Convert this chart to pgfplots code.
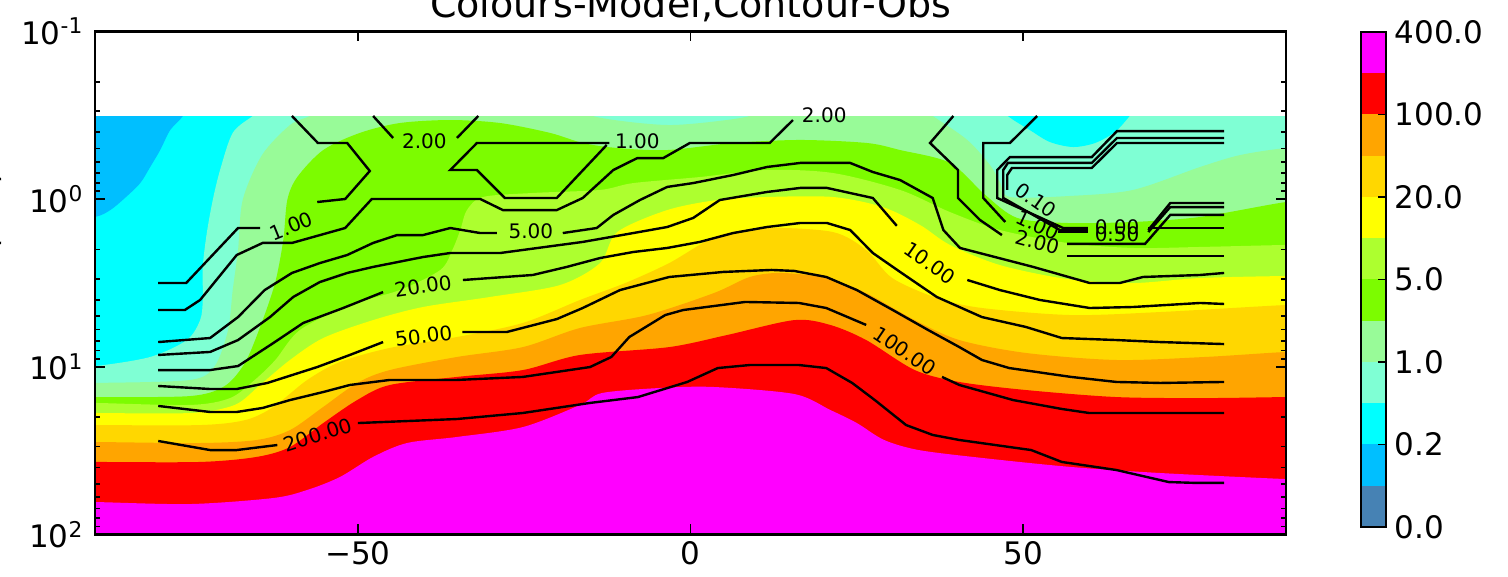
\documentclass[border=0pt]{standalone}
\usepackage{fontspec}
\setmainfont{DejaVu Sans}
\usepackage{pgfplots}
\pgfplotsset{compat=1.18}
\definecolor{cSteel}{RGB}{70,130,180}
\definecolor{cDeep}{RGB}{0,191,255}
\definecolor{cCyan}{RGB}{0,255,255}
\definecolor{cAqua}{RGB}{127,255,212}
\definecolor{cPale}{RGB}{152,251,152}
\definecolor{cLawn}{RGB}{124,252,0}
\definecolor{cGY}{RGB}{173,255,47}
\definecolor{cYel}{RGB}{255,255,0}
\definecolor{cGold}{RGB}{255,215,0}
\definecolor{cOra}{RGB}{255,165,0}
\definecolor{cRed}{RGB}{255,0,0}
\definecolor{cMag}{RGB}{255,0,255}
\tikzset{clabel/.style={font=\fontsize{10}{12}\selectfont, inner sep=0pt}}
\pgfplotsset{band/.style={fill=#1, draw=none, smooth, tension=0.5}}
\begin{document}
\begin{tikzpicture}
\begin{axis}[
  at={(47.5pt,21.3pt)}, anchor=south west,
  width=595.5pt, height=251.55pt, scale only axis,
  xmin=-89.5, xmax=89.5, ymin=-1, ymax=2, y dir=reverse,
  xtick={-50,0,50}, xticklabels={−50,0,50},
  ytick={-1,0,1,2},
  yticklabels={10\textsuperscript{-1},10\textsuperscript{0},10\textsuperscript{1},10\textsuperscript{2}},
  minor ytick={-0.699,-0.523,-0.398,-0.301,-0.222,-0.155,-0.097,-0.046,
               0.301,0.477,0.602,0.699,0.778,0.845,0.903,0.954,
               1.301,1.477,1.602,1.699,1.778,1.845,1.903,1.954},
  tick align=inside, xtick pos=both, ytick pos=both,
  major tick length=5pt, minor tick length=2.5pt,
  every tick/.style={black, line width=0.8pt},
  axis line style={line width=1.2pt},
  ticklabel style={font=\fontsize{15.5}{18}\selectfont},
  yticklabel style={xshift=-2.3pt},
  axis on top, clip mode=individual,
]
% filled model field
\addplot[fill=cCyan, draw=none] coordinates {(-89.5,-0.495) (89.5,-0.495) (89.5,2) (-89.5,2)} -- cycle;
\addplot[band=cDeep] coordinates {(-95,-0.6) (-75.5,-0.6) (-76.3,-0.495) (-78.2,-0.411) (-79.7,-0.292) (-81.2,-0.191) (-82.7,-0.095) (-85.0,-0.006) (-87.2,0.066) (-89.5,0.107) (-95,0.13)} -- cycle;
\addplot[band=cAqua] coordinates {(-95,2.2) (-95,0.996) (-89.5,0.996) (-81.2,0.942) (-75.7,0.841) (-73.7,0.722) (-73.3,0.602) (-73.3,0.405) (-72.7,0.203) (-71.8,0.006) (-70.7,-0.173) (-68.8,-0.394) (-65.8,-0.495) (-63,-0.58) (95,-0.58) (95,2.2)} -- cycle;
\addplot[band=cCyan] coordinates {(46.0,-0.58) (47.7,-0.495) (51.0,-0.411) (54.0,-0.340) (57.5,-0.310) (60.8,-0.334) (63.8,-0.400) (66.0,-0.495) (67.7,-0.58)} -- cycle;
\addplot[band=cPale] coordinates {(-95,2.2) (-95,1.097) (-89.5,1.097) (-75.2,1.079) (-71.5,0.996) (-69.5,0.781) (-68.8,0.543) (-68.0,0.304) (-67.3,0.006) (-64.4,-0.262) (-60.2,-0.441) (-57.2,-0.495) (-55,-0.56) (-17,-0.56) (-14.7,-0.495) (-9.1,-0.459) (-3.1,-0.441) (2.9,-0.459) (8.9,-0.495) (11,-0.56) (34,-0.56) (36.4,-0.495) (41.6,-0.352) (45.0,-0.203) (46.5,-0.101) (48.0,-0.012) (57.0,-0.018) (66.5,-0.054) (76.6,-0.191) (82.6,-0.262) (89.5,-0.304) (95,-0.31) (95,2.2)} -- cycle;
\addplot[band=cLawn] coordinates {(-95,2.2) (-95,1.181) (-89.5,1.181) (-75.2,1.175) (-70.0,1.115) (-66.9,0.972) (-64.4,0.733) (-62.4,0.495) (-61.2,0.244) (-60.6,0.006) (-59.1,-0.131) (-55.2,-0.292) (-49.7,-0.394) (-43.7,-0.453) (-36.1,-0.471) (-28.6,-0.453) (-21.1,-0.394) (-16.2,-0.334) (-11.0,-0.304) (-3.5,-0.292) (6.4,-0.334) (16.5,-0.352) (26.5,-0.334) (31.5,-0.292) (39.0,-0.215) (44.3,-0.024) (49.1,0.113) (56.6,0.143) (66.5,0.137) (76.6,0.107) (89.5,0.018) (95,0.01) (95,2.2)} -- cycle;
\addplot[band=cGY] coordinates {(-95,2.2) (-95,1.216) (-89.5,1.216) (-75.2,1.228) (-69.2,1.187) (-65.5,1.079) (-62.4,0.960) (-58.7,0.781) (-51.2,0.632) (-43.7,0.543) (-37.6,0.423) (-35.8,0.304) (-34.6,0.185) (-33.6,0.066) (-31.2,-0.012) (-23.7,-0.036) (-13.6,-0.054) (-8.6,-0.095) (1.4,-0.131) (11.5,-0.173) (21.4,-0.155) (31.5,-0.054) (39.0,0.078) (46.5,0.185) (56.6,0.262) (66.5,0.292) (76.6,0.286) (89.5,0.274) (95,0.274) (95,2.2)} -- cycle;
\addplot[band=cYel] coordinates {(-95,2.2) (-95,1.276) (-89.5,1.276) (-75.2,1.276) (-68.5,1.228) (-64.7,1.109) (-60.2,0.960) (-55.2,0.829) (-47.7,0.722) (-40.2,0.644) (-30.1,0.584) (-19.6,0.513) (-13.6,0.382) (-11.0,0.197) (-3.5,0.066) (4.0,0.006) (11.5,-0.012) (21.4,-0.012) (28.9,0.048) (34.5,0.155) (39.0,0.274) (46.5,0.394) (56.6,0.477) (66.5,0.501) (76.6,0.471) (89.5,0.459) (95,0.459) (95,2.2)} -- cycle;
\addplot[band=cGold] coordinates {(-95,2.2) (-95,1.348) (-89.5,1.348) (-73.7,1.348) (-66.9,1.318) (-62.7,1.240) (-57.6,1.079) (-52.7,0.972) (-45.2,0.888) (-35.1,0.823) (-25.2,0.739) (-16.6,0.602) (-9.8,0.501) (-3.2,0.382) (4.0,0.221) (11.5,0.173) (21.4,0.197) (26.4,0.304) (30.3,0.471) (37.0,0.590) (43.8,0.650) (57.2,0.692) (70.6,0.674) (89.5,0.632) (95,0.63) (95,2.2)} -- cycle;
\addplot[band=cOra] coordinates {(-95,2.2) (-95,1.449) (-89.5,1.449) (-73.7,1.455) (-65.2,1.437) (-60.2,1.378) (-55.2,1.240) (-50.1,1.097) (-45.2,1.020) (-35.1,0.942) (-25.2,0.883) (-16.6,0.769) (-6.5,0.692) (3.5,0.561) (8.9,0.465) (13.6,0.441) (20.4,0.471) (26.4,0.561) (33.7,0.722) (40.4,0.841) (50.4,0.918) (64.0,0.960) (77.3,0.942) (89.5,0.912) (95,0.91) (95,2.2)} -- cycle;
\addplot[band=cRed] coordinates {(-95,2.2) (-95,1.568) (-89.5,1.568) (-73.7,1.568) (-65.2,1.538) (-60.2,1.479) (-55.2,1.336) (-50.1,1.199) (-45.2,1.109) (-35.1,1.061) (-25.2,1.020) (-16.6,0.930) (-3.2,0.883) (5.5,0.811) (15.6,0.722) (21.0,0.751) (26.4,0.841) (33.7,1.020) (40.4,1.091) (50.4,1.139) (64.0,1.181) (77.3,1.187) (89.5,1.181) (95,1.18) (95,2.2)} -- cycle;
\addplot[band=cMag] coordinates {(-95,2.2) (-95,1.807) (-89.5,1.807) (-75.2,1.819) (-62.7,1.783) (-57.6,1.735) (-52.7,1.658) (-47.7,1.538) (-42.6,1.455) (-35.1,1.419) (-25.2,1.360) (-16.6,1.228) (-13.3,1.157) (-4.6,1.127) (3.5,1.121) (15.6,1.163) (21.0,1.258) (25.0,1.336) (29.1,1.437) (34.3,1.497) (43.8,1.544) (57.2,1.598) (70.6,1.634) (89.5,1.670) (95,1.672) (95,2.2)} -- cycle;
% no model data above the top level
\addplot[fill=white, draw=none] coordinates {(-95,-1.1) (95,-1.1) (95,-0.495) (-95,-0.495)} -- cycle;
% observed contours
\addplot[black, line width=1.2pt] coordinates {(-80.0,1.443) (-72.2,1.497) (-68.2,1.497) (-62.1,1.467)};
\addplot[black, line width=1.2pt] coordinates {(-50.0,1.336) (-35.1,1.312) (-25.2,1.276) (-15.1,1.216) (-7.9,1.181) (-0.5,1.091) (4.1,1.008) (8.9,0.990) (16.3,0.990) (20.4,1.008) (24.3,1.097) (27.7,1.199) (32.4,1.348) (36.4,1.407) (40.4,1.437) (51.2,1.497) (55.8,1.568) (64.0,1.616) (71.9,1.688) (76.0,1.693) (80.2,1.693)};
\addplot[black, line width=1.2pt] coordinates {(-80.0,1.234) (-72.2,1.270) (-68.2,1.270) (-64.3,1.246) (-60.2,1.199) (-55.2,1.151) (-51.2,1.109) (-45.2,1.079) (-35.1,1.079) (-25.2,1.061) (-15.1,1.002) (-11.9,0.942) (-9.2,0.823) (-3.8,0.692) (-1.1,0.662) (8.2,0.614) (16.3,0.620) (20.4,0.650) (26.4,0.751)};
\addplot[black, line width=1.2pt] coordinates {(37.8,1.061) (40.4,1.109) (48.5,1.199) (55.8,1.252) (59.9,1.276) (80.2,1.276)};
\addplot[black, line width=1.2pt] coordinates {(-80.0,1.115) (-72.2,1.133) (-68.2,1.133) (-63.6,1.097) (-56.1,1.002) (-51.2,0.930) (-46.2,0.853)};
\addplot[black, line width=1.2pt] coordinates {(-34.3,0.793) (-27.6,0.793) (-20.1,0.716) (-16.2,0.650) (-10.6,0.543) (-3.2,0.465) (4.9,0.435) (12.2,0.423) (15.6,0.429) (20.4,0.465) (25.0,0.543) (30.4,0.662) (35.7,0.781) (40.4,0.883) (43.8,0.960) (47.9,1.008) (57.2,1.061) (64.0,1.091) (70.6,1.097) (80.2,1.091)};
\addplot[black, line width=1.2pt] coordinates {(-80.0,1.020) (-72.2,1.020) (-68.0,0.996) (-62.7,0.859) (-58.2,0.739) (-52.2,0.650) (-46.2,0.555)};
\addplot[black, line width=1.2pt] coordinates {(-34.2,0.483) (-23.7,0.453) (-18.6,0.405) (-13.6,0.352) (-8.6,0.316) (-3.5,0.292) (1.4,0.256) (6.4,0.203) (11.5,0.167) (16.5,0.143) (20.5,0.143) (24.0,0.185) (27.4,0.322) (31.5,0.435) (37.0,0.584) (43.8,0.704) (50.4,0.763) (55.8,0.829) (64.0,0.841) (70.6,0.853) (80.2,0.865)};
\addplot[black, line width=1.2pt] coordinates {(-80.0,0.930) (-72.2,0.912) (-68.0,0.841) (-63.2,0.704) (-59.7,0.584) (-55.7,0.495) (-51.6,0.441) (-47.7,0.405) (-40.2,0.346) (-36.1,0.322) (-28.6,0.322) (-16.2,0.256) (-8.6,0.203) (-3.5,0.167) (0.4,0.113) (4.4,0.006) (11.5,-0.042) (16.5,-0.066) (20.5,-0.066) (27.4,-0.006) (31.0,0.160)};
\addplot[black, line width=1.2pt] coordinates {(41.6,0.483) (46.5,0.543) (52.5,0.602) (60.0,0.650) (66.5,0.644) (76.6,0.620) (80.2,0.626)};
\addplot[black, line width=1.2pt] coordinates {(-80.0,0.853) (-72.2,0.829) (-68.0,0.704) (-64.0,0.543) (-59.9,0.441) (-55.7,0.382) (-51.6,0.334) (-47.7,0.262) (-44.1,0.215) (-40.2,0.215) (-36.1,0.173) (-31.6,0.203) (-29.1,0.203)};
\addplot[black, line width=1.2pt] coordinates {(-19.2,0.203) (-14.1,0.173) (-11.6,0.095) (-7.6,0.006) (-3.5,-0.072) (0.4,-0.095) (6.4,-0.143) (11.5,-0.191) (16.5,-0.215) (24.0,-0.215) (27.4,-0.161) (31.5,-0.113) (36.4,-0.006) (38.0,0.185) (40.5,0.292) (51.5,0.405) (60.0,0.501) (64.5,0.501) (68.0,0.465) (76.6,0.453) (80.2,0.441)};
\addplot[black, line width=1.2pt] coordinates {(-80.0,0.662) (-76.0,0.662) (-73.7,0.602) (-68.2,0.334) (-64.3,0.262) (-59.9,0.262) (-51.9,0.173) (-47.9,0.0) (-31.6,0.0) (-28.2,0.066) (-20.1,0.066) (-16.2,-0.006) (-11.6,-0.173) (-8.0,-0.244) (-4.1,-0.244) (-0.1,-0.334) (11.9,-0.334) (15.4,-0.471)};
\addplot[black, line width=1.2pt] coordinates {(-47.7,-0.495) (-44.7,-0.364)};
\addplot[black, line width=1.2pt] coordinates {(-35.1,-0.364) (-31.9,-0.495)};
\addplot[black, line width=1.2pt] coordinates {(-80.0,0.501) (-75.8,0.501) (-68.0,0.173) (-64.7,0.173)};
\addplot[black, line width=1.2pt] coordinates {(-56.1,0.018) (-51.9,0.0) (-48.2,-0.167) (-51.6,-0.334) (-56.0,-0.334) (-59.9,-0.495)};
\addplot[black, line width=1.2pt] coordinates {(-12.2,-0.334) (-32.1,-0.334) (-36.1,-0.173) (-32.1,-0.173) (-27.9,-0.006) (-20.1,-0.006) (-12.6,-0.322)};
\addplot[black, line width=1.2pt] coordinates {(39.5,-0.495) (36.0,-0.334) (40.2,-0.173) (40.2,-0.006) (43.5,0.125) (46.8,0.215)};
\addplot[black, line width=1.2pt] coordinates {(56.6,0.340) (80.2,0.340)};
\addplot[black, line width=1.2pt] coordinates {(52.1,-0.495) (48.0,-0.334) (44.0,-0.334) (44.0,-0.006) (47.3,0.137)};
\addplot[black, line width=1.2pt] coordinates {(56.6,0.268) (68.3,0.268) (72.1,0.095) (80.2,0.095)};
\addplot[black, line width=1.2pt] coordinates {(80.2,-0.405) (64.1,-0.405) (60.3,-0.250) (48.0,-0.250) (46.1,-0.173) (46.1,-0.006) (56.0,0.173) (59.7,0.173)};
\addplot[black, line width=1.2pt] coordinates {(68.8,0.173) (80.2,0.173)};
\addplot[black, line width=1.2pt] coordinates {(80.2,-0.364) (64.1,-0.364) (60.3,-0.215) (47.7,-0.215) (47.0,-0.173) (47.0,-0.006) (55.5,0.185) (59.7,0.185)};
\addplot[black, line width=1.2pt] coordinates {(68.8,0.185) (72.1,0.024) (80.2,0.024)};
\addplot[black, line width=1.2pt] coordinates {(80.2,-0.334) (64.1,-0.334) (60.3,-0.185) (48.3,-0.185) (47.6,-0.143) (47.6,-0.054)};
\addplot[black, line width=1.2pt] coordinates {(55.2,0.197) (59.7,0.197)};
\addplot[black, line width=1.2pt] coordinates {(68.8,0.197) (72.1,0.048) (80.2,0.048)};
% contour labels
\node[clabel, rotate=18] at (axis cs:-56.0,1.407) {200.00};
\node[clabel, rotate=-34] at (axis cs:32.2,0.906) {100.00};
\node[clabel, rotate=7] at (axis cs:-40.1,0.817) {50.00};
\node[clabel, rotate=8] at (axis cs:-40.2,0.519) {20.00};
\node[clabel, rotate=-35] at (axis cs:36.0,0.382) {10.00};
\node[clabel] at (axis cs:-24.0,0.191) {5.00};
\node[clabel] at (axis cs:20.1,-0.501) {2.00};
\node[clabel] at (axis cs:-40.0,-0.346) {2.00};
\node[clabel, rotate=22] at (axis cs:-60.0,0.161) {1.00};
\node[clabel] at (axis cs:-8.0,-0.346) {1.00};
\node[clabel, rotate=-15] at (axis cs:52.1,0.256) {2.00};
\node[clabel, rotate=-25] at (axis cs:52.2,0.155) {1.00};
\node[clabel, rotate=-35] at (axis cs:51.9,0.006) {0.10};
\node[clabel] at (axis cs:64.1,0.167) {0.00};
\node[clabel] at (axis cs:64.1,0.209) {0.50};
\end{axis}
% colour bar
\begin{axis}[
  at={(680.5pt,25pt)}, anchor=south west,
  width=12.5pt, height=247.5pt, scale only axis,
  xmin=0, xmax=1, ymin=0, ymax=12,
  xtick=\empty, ytick={0,2,4,6,8,10,12},
  yticklabels={0.0,0.2,1.0,5.0,20.0,100.0,400.0},
  ytick pos=right, yticklabel pos=right, tick align=inside,
  major tick length=4pt,
  every tick/.style={black, line width=0.8pt},
  axis line style={line width=1pt},
  ticklabel style={font=\fontsize{15.5}{18}\selectfont},
  yticklabel style={xshift=0.8pt},
  axis on top,
]
\addplot[fill=cSteel, draw=none] coordinates {(0,0) (1,0) (1,1) (0,1)} -- cycle;
\addplot[fill=cDeep, draw=none] coordinates {(0,1) (1,1) (1,2) (0,2)} -- cycle;
\addplot[fill=cCyan, draw=none] coordinates {(0,2) (1,2) (1,3) (0,3)} -- cycle;
\addplot[fill=cAqua, draw=none] coordinates {(0,3) (1,3) (1,4) (0,4)} -- cycle;
\addplot[fill=cPale, draw=none] coordinates {(0,4) (1,4) (1,5) (0,5)} -- cycle;
\addplot[fill=cLawn, draw=none] coordinates {(0,5) (1,5) (1,6) (0,6)} -- cycle;
\addplot[fill=cGY, draw=none] coordinates {(0,6) (1,6) (1,7) (0,7)} -- cycle;
\addplot[fill=cYel, draw=none] coordinates {(0,7) (1,7) (1,8) (0,8)} -- cycle;
\addplot[fill=cGold, draw=none] coordinates {(0,8) (1,8) (1,9) (0,9)} -- cycle;
\addplot[fill=cOra, draw=none] coordinates {(0,9) (1,9) (1,10) (0,10)} -- cycle;
\addplot[fill=cRed, draw=none] coordinates {(0,10) (1,10) (1,11) (0,11)} -- cycle;
\addplot[fill=cMag, draw=none] coordinates {(0,11) (1,11) (1,12) (0,12)} -- cycle;
\end{axis}
\node[anchor=base, font=\fontsize{19}{23}\selectfont] at (345.25pt,279.5pt) {Colours-Model,Contour-Obs};
\node[anchor=base, rotate=90, font=\fontsize{15.5}{18}\selectfont] at (-1.2pt,147pt) {Pressure (hPa)};
\pgfresetboundingbox
\path (0,0) rectangle (754pt,288.5pt);
\end{tikzpicture}
\end{document}
